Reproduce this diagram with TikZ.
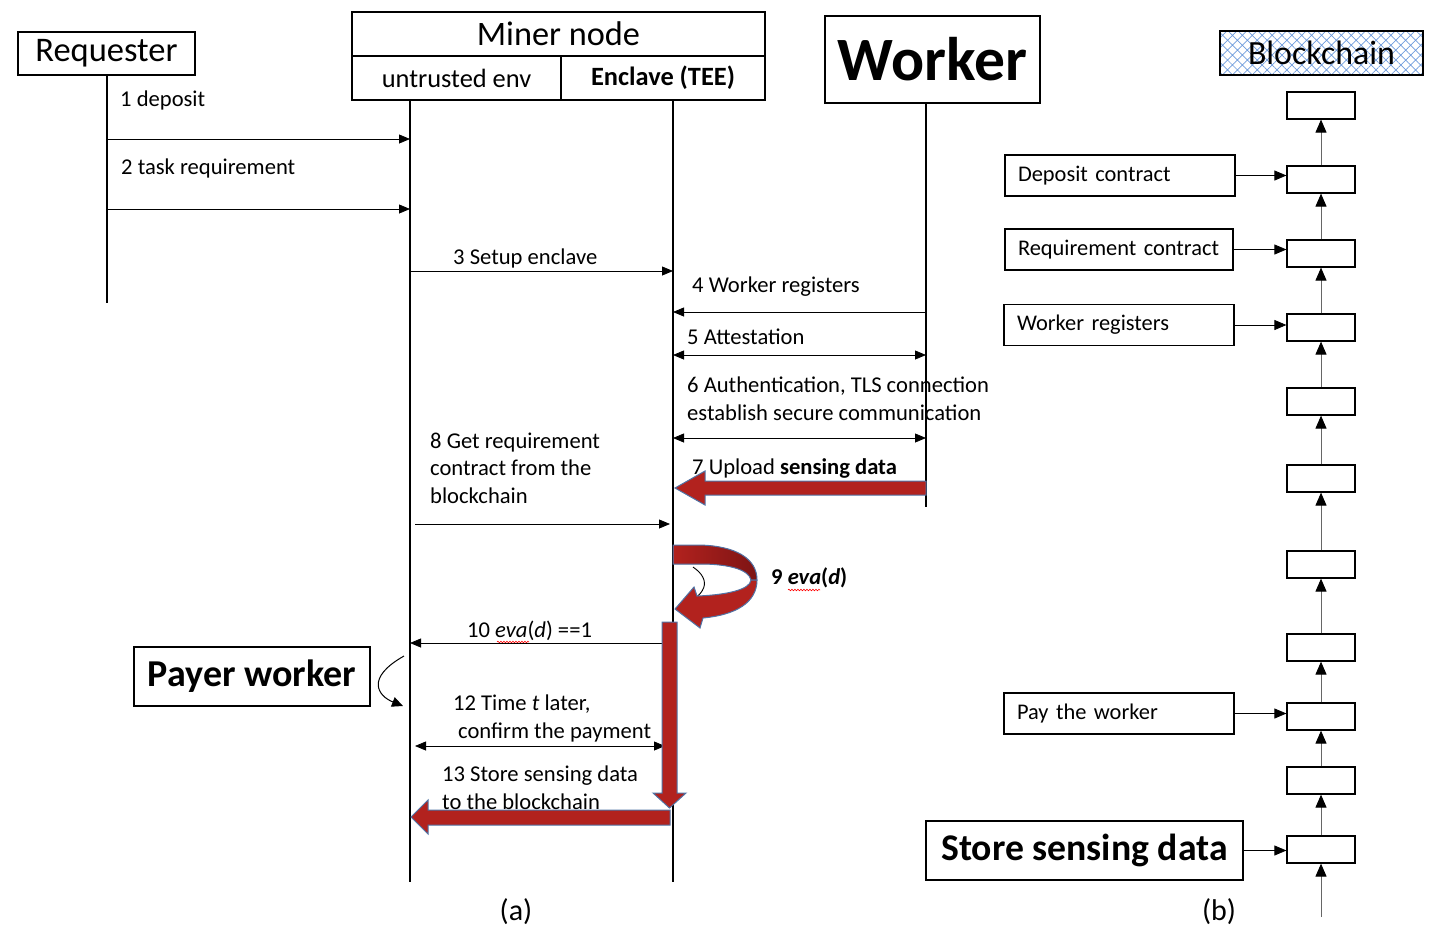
\documentclass[tikz,border=0pt]{standalone}
\usepackage{fontspec}
\setmainfont{Carlito}
\usetikzlibrary{arrows.meta,patterns.meta,decorations.pathmorphing}
\definecolor{blockred}{RGB}{178,34,30}
\definecolor{blockdark}{RGB}{125,20,20}
\definecolor{blockedge}{RGB}{80,115,165}
\definecolor{hatchblue}{RGB}{110,155,220}
\newcommand{\fsz}[1]{\fontsize{#1}{1.22\dimexpr#1pt\relax}\selectfont}
\tikzset{
  tip/.tip={Triangle[length=11pt,width=9pt]},
  msgtxt/.style={font=\fsz{22.6}, inner sep=0pt, anchor=west, align=left},
  msg/.style={line width=0.8pt, -tip},
  dmsg/.style={line width=0.8pt, tip-tip},
  lifeline/.style={line width=1.2pt},
  head/.style={draw, line width=1.2pt, inner sep=0pt},
  bigarrow/.style={fill=blockred, draw=blockedge, line width=1pt, line join=miter},
  block/.style={draw, line width=1.2pt, minimum width=68pt, minimum height=27pt, inner sep=0pt},
  chain/.style={line width=1pt, draw=gray!80!black, -{Triangle[length=13pt,width=11pt,color=black]}},
  cbox/.style={draw, line width=1.2pt, text width=204pt, inner xsep=13pt, inner ysep=0pt, minimum height=41pt, align=left, font=\fsz{22.4}},
  feed/.style={line width=0.8pt, -{Triangle[length=12pt,width=10pt]}},
  spell/.style={red, line width=0.6pt, decorate, decoration={snake, amplitude=0.8pt, segment length=3pt}},
}
\begin{document}
\begin{tikzpicture}[x=1pt, y=-1pt]
\useasboundingbox (0,0) rectangle (1440,951);

% ---------- participants ----------
\node[head, minimum width=177pt, minimum height=43pt, font=\fsz{34.5}] (rq) at (106.5,53.5) {\raisebox{-3pt}{Requester}};
\node[head, minimum width=413pt, minimum height=44pt, font=\fsz{34.3}] (mn) at (558.5,34) {Miner node};
\node[head, minimum width=209pt, minimum height=44pt, font=\fsz{26.4}] (ue) at (456.5,78) {untrusted env};
\node[head, minimum width=204pt, minimum height=44pt, font=\bfseries\fsz{26.4}] (en) at (663,78) {Enclave (TEE)};
\node[head, minimum width=215pt, minimum height=87pt, font=\bfseries\fsz{61.6}] (wk) at (932.5,59.5) {Worker};
\node[head, minimum width=203pt, minimum height=44pt,
      pattern={Hatch[angle=45,distance=7pt,line width=0.7pt]}, pattern color=hatchblue] (bc) at (1321.5,53) {};
\node[font=\fsz{33.9}, inner sep=0pt] (bct) at (bc) {Blockchain};

% ---------- lifelines ----------
\coordinate (Rl) at (107,75);   \coordinate (Rb) at (107,303);
\coordinate (Ul) at (410,100);  \coordinate (Ub) at (410,882);
\coordinate (El) at (673,100);  \coordinate (Eb) at (673,882);
\coordinate (Wl) at (926,103);  \coordinate (Wb) at (926,507);
\draw[lifeline] (Rl) -- (Rb);
\draw[lifeline] (Ul) -- (Ub);
\draw[lifeline] (El) -- (Eb);
\draw[lifeline] (Wl) -- (Wb);

% ---------- messages ----------
\node[msgtxt] (m1) at (120,100) {1 deposit};
\draw[msg] (Rl |- 0,139) -- (Ul |- 0,139);
\node[msgtxt] (m2) at (121,168) {2 task requirement};
\draw[msg] (Rl |- 0,209) -- (Ul |- 0,209);
\node[msgtxt] (m3) at (453,258) {3 Setup enclave};
\draw[msg] (Ul |- 0,271) -- (El |- 0,271);
\node[msgtxt] (m4) at (692,287) {4 Worker registers};
\draw[msg] (Wl |- 0,312) -- (El |- 0,312);
\node[msgtxt] (m5) at (687,337) {5 Attestation};
\draw[dmsg] (El |- 0,355) -- (Wl |- 0,355);
\node[msgtxt] (m6) at (687,399) {6 Authentication, TLS connection\\establish secure communication};
\draw[dmsg] (El |- 0,438) -- (Wl |- 0,438);
\node[msgtxt] (m7) at (692,468) {7 Upload \textbf{sensing data}};
\node[msgtxt] (m8) at (430,468) {8 Get requirement\\contract from the\\blockchain};
\draw[msg] ([xshift=5pt]Ul |- 0,524) -- ([xshift=-3pt]El |- 0,524);
\node[msgtxt, font=\bfseries\fsz{22.6}] (m9) at (771,578) {9 \textit{eva}(\textit{d})};
\draw[spell] (788,590) -- (820,590);
\node[msgtxt] (m10) at (467,631) {10 \textit{eva}(\textit{d}) ==1};
\draw[spell] (497,642) -- (529,642);
\draw[msg] ([xshift=-11pt]El |- 0,643) -- (Ul |- 0,643);
\node[msgtxt] (m12) at (453,704) {12 Time \textit{t} later,};
\node[msgtxt] (m12b) at (458,732) {confirm the payment};
\draw[dmsg] ([xshift=5pt]Ul |- 0,746) -- ([xshift=-8pt]El |- 0,746);
\node[msgtxt] (m13) at (442,788) {13 Store sensing data\\to the blockchain};

% self call arrow under the loop
\draw[line width=0.9pt] (693,567) .. controls (712,580) and (708,596) .. (676,608);

% ---------- block arrows ----------
\draw[bigarrow] (926,481) -- (705,481) -- (705,471) -- (675,488) -- (705,505) -- (705,495) -- (926,495) -- cycle;
% loop for step 9
\draw[bigarrow, left color=blockred, right color=blockdark]
  (673,545) -- (700,545) .. controls (735,546) and (757,558) .. (757,580)
  -- (751,580) .. controls (749,570) and (730,564) .. (700,564) -- (673,564) -- cycle;
\draw[bigarrow]
  (757,580) .. controls (757,603) and (735,615) .. (703,618) -- (700,628) -- (675,609)
  -- (694,587) -- (697,596) .. controls (725,595) and (750,590) .. (751,580) -- cycle;
% steps 11 and 13
\draw[bigarrow] (662,622) -- (677,622) -- (677,793) -- (686,793) -- (669.5,808) -- (653,793) -- (662,793) -- cycle;
\draw[bigarrow] (670,810) -- (428,810) -- (428,800) -- (411,817) -- (428,834) -- (428,825) -- (670,825) -- cycle;

% ---------- payer worker ----------
\node[head, minimum width=236pt, minimum height=59pt, font=\bfseries\fsz{38}] (pw) at (252,676.5) {Payer worker};
\coordinate (pa) at (404,656);
\coordinate (pb) at (403,706);
\draw[line width=1pt, -{Triangle[length=11pt,width=10pt]}] (pa) .. controls (365,678) and (378,696) .. (pb);

% ---------- blockchain ----------
\foreach \i/\y in {1/105.5,2/179.5,3/253.5,4/327.5,5/401.5,6/478.5,7/564.5,8/647.5,9/716.5,10/780.5,11/849.5}
  \node[block] (b\i) at (1321,\y) {};
\foreach \i [evaluate=\i as \j using int(\i-1)] in {2,...,11}
  \draw[chain] (b\i) -- (b\j);
\coordinate (g) at (1321,917);
\draw[chain] (g) -- (b11);

\node[cbox] (c1) at (1120,175.5) {Deposit contract};
\node[cbox, text width=202pt] (c2) at (1119,249.5) {Requirement contract};
\node[cbox] (c3) at (1119,325) {Worker registers};
\node[cbox] (c4) at (1119,713.5) {Pay the worker};
\node[head, minimum width=317pt, minimum height=59pt, font=\bfseries\fsz{37.7}] (c5) at (1084.5,850.5) {Store sensing data};
\draw[feed] (c1.east) -- (c1.east -| b2.west);
\draw[feed] (c2.east) -- (c2.east -| b3.west);
\draw[feed] (c3.east) -- (c3.east -| b4.west);
\draw[feed] (c4.east) -- (c4.east -| b9.west);
\draw[feed] (c5.east) -- (c5.east -| b11.west);

% ---------- captions ----------
\node[font=\fsz{30}] (ca) at (516,912) {(a)};
\node[font=\fsz{30}] (cb) at (1219,912) {(b)};
\end{tikzpicture}
\end{document}
